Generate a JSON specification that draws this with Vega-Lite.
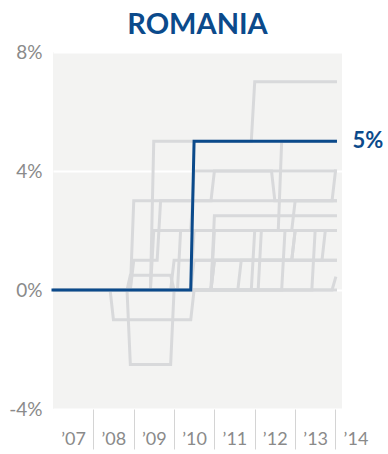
{
  "$schema": "https://vega.github.io/schema/vega-lite/v6.json",
  "autosize": "none",
  "width": 289,
  "height": 357,
  "padding": {"left": 53, "top": 52, "right": 46, "bottom": 45},
  "background": "white",
  "title": {"text": "ROMANIA", "font": "Lato", "fontWeight": "bold", "fontSize": 29, "color": "#0b4a8b", "anchor": "middle", "frame": "group", "offset": 3},
  "config": {
    "view": {"fill": "#f3f3f2", "stroke": null},
    "axis": {"labelFont": "Lato", "labelColor": "#8a8a8a", "domain": false, "title": null}
  },
  "data": {"values": [
    {"c":"Germany","d":"2007-01-01","v":0},{"c":"Germany","d":"2014-01-01","v":0},
    {"c":"France","d":"2007-01-01","v":0},{"c":"France","d":"2013-12-01","v":0},{"c":"France","d":"2014-01-01","v":0.4},
    {"c":"Slovakia","d":"2007-01-01","v":0},{"c":"Slovakia","d":"2010-12-01","v":0},{"c":"Slovakia","d":"2011-01-01","v":1},{"c":"Slovakia","d":"2014-01-01","v":1},
    {"c":"Poland","d":"2007-01-01","v":0},{"c":"Poland","d":"2010-12-01","v":0},{"c":"Poland","d":"2011-01-01","v":1},{"c":"Poland","d":"2014-01-01","v":1},
    {"c":"Slovenia","d":"2007-01-01","v":0},{"c":"Slovenia","d":"2013-06-01","v":0},{"c":"Slovenia","d":"2013-07-01","v":2},{"c":"Slovenia","d":"2014-01-01","v":2},
    {"c":"Netherlands","d":"2007-01-01","v":0},{"c":"Netherlands","d":"2012-09-01","v":0},{"c":"Netherlands","d":"2012-10-01","v":2},{"c":"Netherlands","d":"2014-01-01","v":2},
    {"c":"Italy","d":"2007-01-01","v":0},{"c":"Italy","d":"2011-08-01","v":0},{"c":"Italy","d":"2011-09-01","v":1},{"c":"Italy","d":"2013-09-01","v":1},{"c":"Italy","d":"2013-10-01","v":2},{"c":"Italy","d":"2014-01-01","v":2},
    {"c":"Finland","d":"2007-01-01","v":0},{"c":"Finland","d":"2010-06-01","v":0},{"c":"Finland","d":"2010-07-01","v":1},{"c":"Finland","d":"2012-12-01","v":1},{"c":"Finland","d":"2013-01-01","v":2},{"c":"Finland","d":"2014-01-01","v":2},
    {"c":"Czech Republic","d":"2007-01-01","v":0},{"c":"Czech Republic","d":"2009-12-01","v":0},{"c":"Czech Republic","d":"2010-01-01","v":1},{"c":"Czech Republic","d":"2012-12-01","v":1},{"c":"Czech Republic","d":"2013-01-01","v":2},{"c":"Czech Republic","d":"2014-01-01","v":2},
    {"c":"Estonia","d":"2007-01-01","v":0},{"c":"Estonia","d":"2009-06-01","v":0},{"c":"Estonia","d":"2009-07-01","v":2},{"c":"Estonia","d":"2014-01-01","v":2},
    {"c":"Ireland","d":"2007-01-01","v":0},{"c":"Ireland","d":"2008-11-01","v":0},{"c":"Ireland","d":"2008-12-01","v":0.5},{"c":"Ireland","d":"2009-12-01","v":0.5},{"c":"Ireland","d":"2010-01-01","v":0},{"c":"Ireland","d":"2011-12-01","v":0},{"c":"Ireland","d":"2012-01-01","v":2},{"c":"Ireland","d":"2014-01-01","v":2},
    {"c":"Portugal","d":"2007-01-01","v":0},{"c":"Portugal","d":"2008-06-01","v":0},{"c":"Portugal","d":"2008-07-01","v":-1},{"c":"Portugal","d":"2010-06-01","v":-1},{"c":"Portugal","d":"2010-07-01","v":0},{"c":"Portugal","d":"2010-12-01","v":0},{"c":"Portugal","d":"2011-01-01","v":2},{"c":"Portugal","d":"2014-01-01","v":2},
    {"c":"United Kingdom","d":"2007-01-01","v":0},{"c":"United Kingdom","d":"2008-11-01","v":0},{"c":"United Kingdom","d":"2008-12-01","v":-2.5},{"c":"United Kingdom","d":"2009-12-01","v":-2.5},{"c":"United Kingdom","d":"2010-01-01","v":0},{"c":"United Kingdom","d":"2010-12-01","v":0},{"c":"United Kingdom","d":"2011-01-01","v":2.5},{"c":"United Kingdom","d":"2014-01-01","v":2.5},
    {"c":"Cyprus","d":"2007-01-01","v":0},{"c":"Cyprus","d":"2012-02-01","v":0},{"c":"Cyprus","d":"2012-03-01","v":2},{"c":"Cyprus","d":"2012-12-01","v":2},{"c":"Cyprus","d":"2013-01-01","v":3},{"c":"Cyprus","d":"2013-12-01","v":3},{"c":"Cyprus","d":"2014-01-01","v":4},
    {"c":"Lithuania","d":"2007-01-01","v":0},{"c":"Lithuania","d":"2008-12-01","v":0},{"c":"Lithuania","d":"2009-01-01","v":1},{"c":"Lithuania","d":"2009-08-01","v":1},{"c":"Lithuania","d":"2009-09-01","v":3},{"c":"Lithuania","d":"2014-01-01","v":3},
    {"c":"Latvia","d":"2007-01-01","v":0},{"c":"Latvia","d":"2008-12-01","v":0},{"c":"Latvia","d":"2009-01-01","v":3},{"c":"Latvia","d":"2010-12-01","v":3},{"c":"Latvia","d":"2011-01-01","v":4},{"c":"Latvia","d":"2012-06-01","v":4},{"c":"Latvia","d":"2012-07-01","v":3},{"c":"Latvia","d":"2014-01-01","v":3},
    {"c":"Greece","d":"2007-01-01","v":0},{"c":"Greece","d":"2010-02-01","v":0},{"c":"Greece","d":"2010-03-01","v":2},{"c":"Greece","d":"2010-06-01","v":2},{"c":"Greece","d":"2010-07-01","v":4},{"c":"Greece","d":"2014-01-01","v":4},
    {"c":"Spain","d":"2007-01-01","v":0},{"c":"Spain","d":"2010-06-01","v":0},{"c":"Spain","d":"2010-07-01","v":2},{"c":"Spain","d":"2012-08-01","v":2},{"c":"Spain","d":"2012-09-01","v":5},{"c":"Spain","d":"2014-01-01","v":5},
    {"c":"Hungary","d":"2007-01-01","v":0},{"c":"Hungary","d":"2009-06-01","v":0},{"c":"Hungary","d":"2009-07-01","v":5},{"c":"Hungary","d":"2011-12-01","v":5},{"c":"Hungary","d":"2012-01-01","v":7},{"c":"Hungary","d":"2014-01-01","v":7},
    {"c":"Romania","d":"2007-01-01","v":0},{"c":"Romania","d":"2010-06-01","v":0},{"c":"Romania","d":"2010-07-01","v":5},{"c":"Romania","d":"2014-01-01","v":5}
  ]},
  "encoding": {
    "x": {"field": "d", "type": "temporal",
      "scale": {"type": "utc", "domain": [{"year": 2007, "month": 1, "date": 1, "utc": true}, {"year": 2014, "month": 3, "date": 1, "utc": true}]},
      "axis": {
        "values": [
          {"year": 2007, "month": 1, "date": 1, "utc": true},
          {"year": 2008, "month": 1, "date": 1, "utc": true},
          {"year": 2009, "month": 1, "date": 1, "utc": true},
          {"year": 2010, "month": 1, "date": 1, "utc": true},
          {"year": 2011, "month": 1, "date": 1, "utc": true},
          {"year": 2012, "month": 1, "date": 1, "utc": true},
          {"year": 2013, "month": 1, "date": 1, "utc": true},
          {"year": 2014, "month": 1, "date": 1, "utc": true}
        ],
        "labelExpr": "'\u2019' + utcFormat(datum.value, '%y')",
        "grid": false, "ticks": true, "tickSize": 40, "tickColor": "#d4d4d4", "tickWidth": 1,
        "tickOpacity": {"condition": {"test": "utcyear(datum.value) == 2007", "value": 0}, "value": 1},
        "labelAlign": "center", "labelOffset": 20, "labelPadding": -19, "labelFontSize": 18,
        "labelFlush": false, "labelOverlap": false, "labelBound": false
      }
    },
    "y": {"field": "v", "type": "quantitative",
      "scale": {"domain": [-4, 8], "nice": false, "zero": false},
      "axis": {"values": [-4, 0, 4, 8], "labelExpr": "datum.value + '%'", "ticks": false, "grid": true, "gridColor": "white", "gridWidth": 2, "labelFontSize": 19, "labelPadding": 11}
    }
  },
  "layer": [
    {"transform": [{"filter": "datum.c != 'Romania'"}],
     "mark": {"type": "line", "color": "#d8d9db", "strokeWidth": 3, "strokeCap": "square", "clip": true},
     "encoding": {"detail": {"field": "c"}}},
    {"transform": [{"filter": "datum.c == 'Romania'"}],
     "mark": {"type": "line", "color": "#0b4a8b", "strokeWidth": 3, "strokeCap": "square"},
     "encoding": {"detail": {"field": "c"}}},
    {"transform": [{"filter": "datum.c == 'Romania' && year(datum.d) == 2014"}],
     "mark": {"type": "text", "align": "left", "baseline": "middle", "dx": 17, "font": "Lato", "fontWeight": "bold", "fontSize": 22, "color": "#0b4a8b"},
     "encoding": {"text": {"value": "5%"}}}
  ]
}
